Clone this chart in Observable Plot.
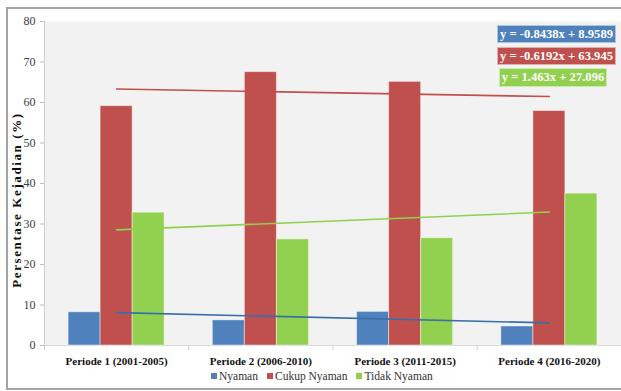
<!DOCTYPE html>
<html>
<head>
<meta charset="utf-8">
<script src="https://cdn.jsdelivr.net/npm/d3@7"></script>
<script src="https://cdn.jsdelivr.net/npm/@observablehq/plot@0.6"></script>
<style>
  html, body { margin: 0; padding: 0; background: #fff; overflow: hidden; }
  body { font-family: "Times New Roman", "Liberation Serif", serif; }
  #wrap { position: relative; width: 621px; height: 391px; overflow: hidden; }
  #border { position: absolute; left: 6px; top: 7px; width: 660px; height: 383px; border: 2px solid #a3a3a3; box-sizing: border-box; }
  #chart { position: absolute; left: 0; top: 0; }
  #chart svg text { font-family: "Times New Roman", "Liberation Serif", serif; }
  #ytitle { position: absolute; left: 17px; top: 200px; transform: translate(-50%, -50%) rotate(-90deg); white-space: nowrap;
            font-weight: bold; font-size: 13px; letter-spacing: 1.6px; color: #111; }
  .eq { position: absolute; color: #fff; font-weight: bold; font-size: 12.6px; text-align: center; padding: 0;
        white-space: nowrap; box-sizing: border-box; border: 1px solid rgba(255,255,255,0.55); overflow: hidden; }
  #legend { position: absolute; left: 211px; top: 370px; display: flex; align-items: center; font-size: 11.5px; color: #333; white-space: nowrap; }
  #legend .item { display: flex; align-items: center; margin-right: 9px; }
  #legend .sw { width: 6px; height: 6px; margin-right: 2px; }
</style>
</head>
<body>
<div id="wrap">
  <div id="border"></div>
  <div id="chart"></div>
  <div id="ytitle"></div>
  <div id="eqs"></div>
  <div id="legend"></div>
</div>
<script>
// ---- data ----
const periods = ["Periode 1 (2001-2005)", "Periode 2 (2006-2010)", "Periode 3 (2011-2015)", "Periode 4 (2016-2020)"];
const series = ["Nyaman", "Cukup Nyaman", "Tidak Nyaman"];
const nyaman = [8.2, 6.2, 8.3, 4.7];
const cukupNyaman = [59.1, 67.5, 65.1, 57.9];
const tidakNyaman = [32.8, 26.2, 26.5, 37.5];
const slopes = [-0.8438, -0.6192, 1.463];
const intercepts = [8.9589, 63.945, 27.096];
const equations = ["y = -0.8438x + 8.9589", "y = -0.6192x + 63.945", "y = 1.463x + 27.096"];
const yTicks = [0, 10, 20, 30, 40, 50, 60, 70, 80];
const yTitle = "Persentase Kejadian (%)";

// ---- styles ----
const barColors = ["#4f81bd", "#c0504d", "#92d050"];
const lineColors = ["#3a6ea8", "#c0504d", "#92d050"];
const FONT = "'Times New Roman', 'Liberation Serif', serif";

const values = [nyaman, cukupNyaman, tidakNyaman];
const rows = [];
series.forEach((s, si) => periods.forEach((p, pi) => rows.push({series: s, si, period: p, i: pi + 1, value: values[si][pi]})));
const trend = [];
series.forEach((s, si) => [1, 4].forEach(x => trend.push({series: s, si, x, y: intercepts[si] + slopes[si] * x})));

const bw = 0.222; // bar width in period units

const chart = Plot.plot({
  width: 621,
  height: 391,
  marginLeft: 44,
  marginRight: 0,
  marginTop: 21,
  marginBottom: 46,
  style: {background: "transparent", fontFamily: FONT},
  x: {domain: [0.5, 4.5], axis: null},
  y: {domain: [0, 80], axis: null},
  color: {domain: series, range: barColors},
  marks: [
    Plot.frame({fill: "#f2f2f2"}),
    Plot.ruleX([0.5], {stroke: "#cfcfcf"}),
    Plot.ruleY([0], {stroke: "#d9d9d9"}),
    Plot.axisY({ticks: yTicks, tickSize: 4, tickPadding: 5, stroke: "#bfbfbf", color: "#404040", fontSize: 12, fontFamily: FONT, label: null}),
    Plot.axisX({ticks: [0.5, 1.5, 2.5, 3.5, 4.5], tickSize: 5, stroke: "#d0d0d0", tickFormat: () => "", label: null}),
    Plot.axisX({ticks: [1, 2, 3, 4], tickSize: 0, tickPadding: 12, tickFormat: i => periods[i - 1], fontWeight: "bold", fontSize: 11, fontFamily: FONT, color: "#111", label: null}),
    Plot.rectY(rows, {
      x1: d => d.i + (d.si - 1.5) * bw,
      x2: d => d.i + (d.si - 0.5) * bw,
      y1: 0, y2: "value",
      fill: "series",
      stroke: "#ffffff", strokeOpacity: 0.45, strokeWidth: 1
    }),
    ...series.map((s, si) => Plot.line(trend.filter(d => d.si === si), {x: "x", y: "y", stroke: lineColors[si], strokeWidth: 1.6}))
  ]
});
document.getElementById("chart").appendChild(chart);

document.getElementById("ytitle").textContent = yTitle;

const eqBoxes = [
  {left: 497, top: 25, width: 119, height: 18},
  {left: 497, top: 47, width: 119, height: 18},
  {left: 499, top: 68, width: 108, height: 19}
];
const eqs = document.getElementById("eqs");
equations.forEach((t, k) => {
  const d = document.createElement("div");
  d.className = "eq";
  d.textContent = t;
  const b = eqBoxes[k];
  Object.assign(d.style, {left: b.left + "px", top: b.top + "px", width: b.width + "px", height: b.height + "px",
    lineHeight: (b.height - 2) + "px", background: barColors[k]});
  eqs.appendChild(d);
});

const legend = document.getElementById("legend");
series.forEach((s, k) => {
  const it = document.createElement("div");
  it.className = "item";
  const sw = document.createElement("span");
  sw.className = "sw";
  sw.style.background = barColors[k];
  const tx = document.createElement("span");
  tx.textContent = s;
  it.appendChild(sw); it.appendChild(tx);
  legend.appendChild(it);
});
</script>
</body>
</html>
